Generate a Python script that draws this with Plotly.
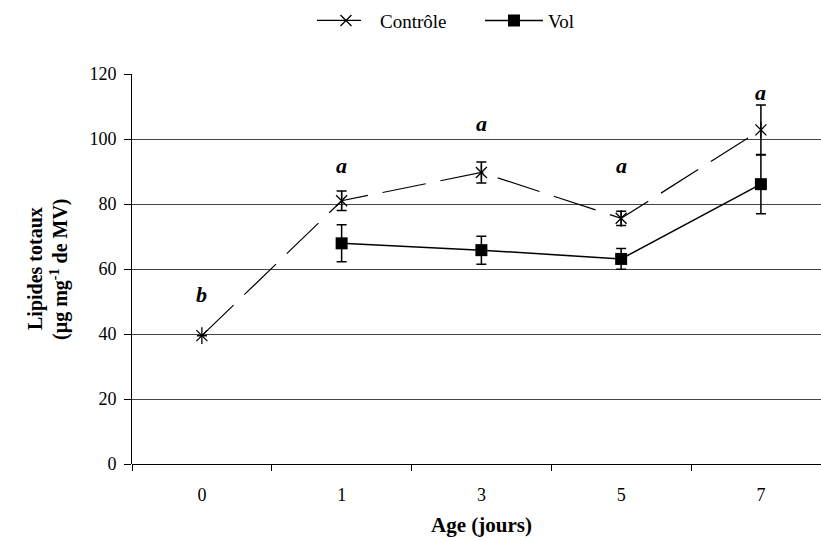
import plotly.graph_objects as go

ages = ["0", "1", "3", "5", "7"]
controle = [39.5, 81.0, 89.7, 75.6, 102.8]
controle_err = [0, 3.0, 3.2, 2.2, 7.7]
vol = [None, 67.9, 65.8, 63.1, 86.1]
vol_err = [0, 5.7, 4.3, 3.2, 9.1]
letters = ["b", "a", "a", "a", "a"]
letter_y = [52.3, 92.0, 104.8, 92.0, 114.2]

FONT = "Liberation Serif, Times New Roman, Tinos, serif"

fig = go.Figure()

fig.add_trace(go.Scatter(
    x=ages, y=controle, name="Contrôle", mode="lines+markers",
    line=dict(color="black", width=1.2, dash="44px,15px"),
    marker=dict(symbol="x-thin-open", size=11, color="black",
                line=dict(color="black", width=1.3)),
    error_y=dict(type="data", array=controle_err, color="black",
                 thickness=1.5, width=5, visible=True),
))
fig.add_trace(go.Scatter(
    x=ages, y=controle, mode="markers", showlegend=False, hoverinfo="skip",
    marker=dict(symbol="line-ns-open", size=12, color="black",
                line=dict(color="black", width=1.3)),
))
fig.add_trace(go.Scatter(
    x=ages, y=vol, name="Vol", mode="lines+markers",
    line=dict(color="black", width=1.5),
    marker=dict(symbol="square", size=12, color="black"),
    error_y=dict(type="data", array=vol_err, color="black",
                 thickness=1.5, width=5, visible=True),
))

for i, (ly, lt) in enumerate(zip(letter_y, letters)):
    fig.add_annotation(x=i, y=ly, xref="x", yref="y", text=f"<b><i>{lt}</i></b>",
                       showarrow=False, yanchor="middle",
                       font=dict(family=FONT, size=22, color="black"))

fig.add_annotation(x=2, y=0, xref="x", yref="paper", yshift=-61, yanchor="middle",
                   text="<b>Age (jours)</b>", showarrow=False,
                   font=dict(family=FONT, size=21, color="black"))

fig.add_annotation(x=0, y=0.5, xref="paper", yref="paper", xshift=-97,
                   xanchor="center", yanchor="middle", textangle=-90,
                   text="<b>Lipides totaux</b>", showarrow=False,
                   font=dict(family=FONT, size=20, color="black"))
fig.add_annotation(x=0, y=0.5, xref="paper", yref="paper", xshift=-73,
                   xanchor="center", yanchor="middle", textangle=-90,
                   text="<b>(µg mg<sup>-1</sup> de MV)</b>", showarrow=False,
                   font=dict(family=FONT, size=20, color="black"))

fig.update_layout(
    width=821, height=541,
    margin=dict(l=132, r=0, t=74, b=77),
    paper_bgcolor="white", plot_bgcolor="white",
    font=dict(family=FONT, size=18, color="black"),
    showlegend=True,
    legend=dict(orientation="h", x=0.38, y=0.997, xref="container", yref="container",
                yanchor="top", xanchor="left",
                font=dict(family=FONT, size=19, color="black"),
                itemwidth=58, entrywidth=95, entrywidthmode="pixels",
                tracegroupgap=0, bgcolor="rgba(0,0,0,0)"),
)

fig.update_xaxes(
    type="category", range=[-0.5, 4.43],
    showgrid=False, showline=False, zeroline=False,
    ticks="outside", tickson="boundaries", ticklen=6, tickcolor="black",
    ticklabelstandoff=18,
    tickfont=dict(family=FONT, size=18, color="black"),
)
fig.update_yaxes(
    range=[0, 120], tickvals=[0, 20, 40, 60, 80, 100, 120],
    showgrid=True, gridcolor="#444444", gridwidth=1,
    showline=True, linecolor="black", linewidth=1,
    zeroline=True, zerolinecolor="black", zerolinewidth=1,
    ticks="outside", ticklen=7, tickcolor="black",
    ticklabelstandoff=4,
    tickfont=dict(family=FONT, size=18, color="black"),
)

fig.write_html("out.html")
